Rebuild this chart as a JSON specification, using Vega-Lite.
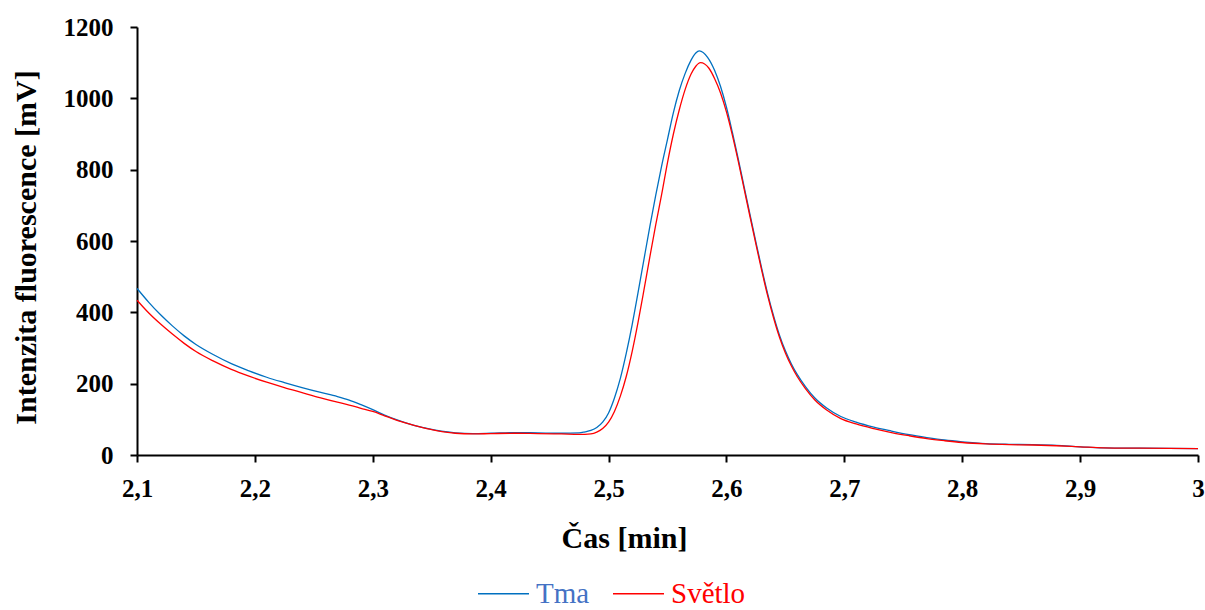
{
  "$schema": "https://vega.github.io/schema/vega-lite/v6.json",
  "width": 1061,
  "height": 428,
  "autosize": "none",
  "padding": {"left": 137, "top": 27, "right": 7, "bottom": 155},
  "background": "white",
  "config": {
    "view": {"stroke": null},
    "font": "Liberation Serif"
  },
  "datasets": {
    "tma": [
      {"t":2.100,"v":467},{"t":2.110,"v":428},{"t":2.120,"v":393},{"t":2.130,"v":362},{"t":2.140,"v":334},
      {"t":2.150,"v":310},{"t":2.165,"v":281},{"t":2.180,"v":256},{"t":2.195,"v":236},{"t":2.210,"v":218},
      {"t":2.225,"v":203},{"t":2.240,"v":189},{"t":2.255,"v":176},{"t":2.270,"v":164},{"t":2.280,"v":154},
      {"t":2.290,"v":141},{"t":2.300,"v":127},{"t":2.310,"v":112},{"t":2.320,"v":99},{"t":2.330,"v":88},
      {"t":2.340,"v":79},{"t":2.350,"v":72},{"t":2.360,"v":66},{"t":2.370,"v":62},{"t":2.385,"v":60},
      {"t":2.400,"v":61},{"t":2.420,"v":63},{"t":2.440,"v":62},{"t":2.460,"v":61},{"t":2.475,"v":62},
      {"t":2.480,"v":65},{"t":2.485,"v":69},{"t":2.490,"v":77},{"t":2.495,"v":92},{"t":2.500,"v":118},
      {"t":2.505,"v":160},{"t":2.510,"v":215},{"t":2.515,"v":285},{"t":2.520,"v":365},{"t":2.525,"v":455},
      {"t":2.530,"v":548},{"t":2.535,"v":640},{"t":2.540,"v":728},{"t":2.545,"v":810},{"t":2.550,"v":885},
      {"t":2.555,"v":960},{"t":2.560,"v":1022},{"t":2.565,"v":1070},{"t":2.570,"v":1107},{"t":2.574,"v":1127},
      {"t":2.577,"v":1133},{"t":2.584,"v":1115},{"t":2.590,"v":1078},{"t":2.595,"v":1033},{"t":2.600,"v":975},
      {"t":2.605,"v":905},{"t":2.610,"v":830},{"t":2.615,"v":752},{"t":2.620,"v":674},{"t":2.625,"v":597},
      {"t":2.630,"v":522},{"t":2.635,"v":452},{"t":2.640,"v":390},{"t":2.645,"v":336},{"t":2.650,"v":292},
      {"t":2.655,"v":256},{"t":2.660,"v":226},{"t":2.667,"v":192},{"t":2.675,"v":160},{"t":2.685,"v":132},
      {"t":2.697,"v":108},{"t":2.710,"v":92},{"t":2.725,"v":78},{"t":2.740,"v":67},{"t":2.755,"v":57},
      {"t":2.770,"v":49},{"t":2.785,"v":42},{"t":2.800,"v":37},{"t":2.820,"v":32},{"t":2.840,"v":30},
      {"t":2.860,"v":29},{"t":2.880,"v":27},{"t":2.900,"v":23},{"t":2.920,"v":20},{"t":2.950,"v":19},
      {"t":3.000,"v":18}
    ],
    "svetlo": [
      {"t":2.100,"v":434},{"t":2.110,"v":398},{"t":2.120,"v":367},{"t":2.130,"v":339},{"t":2.140,"v":313},
      {"t":2.150,"v":290},{"t":2.165,"v":263},{"t":2.180,"v":240},{"t":2.195,"v":221},{"t":2.210,"v":204},
      {"t":2.225,"v":189},{"t":2.240,"v":175},{"t":2.255,"v":161},{"t":2.270,"v":148},{"t":2.280,"v":140},
      {"t":2.290,"v":131},{"t":2.300,"v":122},{"t":2.310,"v":110},{"t":2.320,"v":98},{"t":2.330,"v":88},
      {"t":2.340,"v":79},{"t":2.350,"v":71},{"t":2.360,"v":65},{"t":2.370,"v":61},{"t":2.385,"v":59},
      {"t":2.400,"v":60},{"t":2.420,"v":61},{"t":2.440,"v":60},{"t":2.460,"v":59},{"t":2.475,"v":58},
      {"t":2.480,"v":58},{"t":2.485,"v":59},{"t":2.490,"v":64},{"t":2.495,"v":74},{"t":2.500,"v":92},
      {"t":2.505,"v":122},{"t":2.510,"v":165},{"t":2.515,"v":220},{"t":2.520,"v":290},{"t":2.525,"v":372},
      {"t":2.530,"v":462},{"t":2.535,"v":555},{"t":2.540,"v":645},{"t":2.545,"v":730},{"t":2.550,"v":820},
      {"t":2.555,"v":900},{"t":2.560,"v":968},{"t":2.565,"v":1025},{"t":2.570,"v":1068},{"t":2.574,"v":1090},
      {"t":2.578,"v":1100},{"t":2.585,"v":1085},{"t":2.590,"v":1055},{"t":2.595,"v":1015},{"t":2.600,"v":962},
      {"t":2.605,"v":897},{"t":2.610,"v":824},{"t":2.615,"v":746},{"t":2.620,"v":668},{"t":2.625,"v":591},
      {"t":2.630,"v":516},{"t":2.635,"v":446},{"t":2.640,"v":384},{"t":2.645,"v":330},{"t":2.650,"v":286},
      {"t":2.655,"v":250},{"t":2.660,"v":220},{"t":2.667,"v":186},{"t":2.675,"v":154},{"t":2.685,"v":126},
      {"t":2.697,"v":102},{"t":2.710,"v":87},{"t":2.725,"v":74},{"t":2.740,"v":63},{"t":2.755,"v":54},
      {"t":2.770,"v":46},{"t":2.785,"v":40},{"t":2.800,"v":35},{"t":2.820,"v":31},{"t":2.840,"v":29},
      {"t":2.860,"v":28},{"t":2.880,"v":26},{"t":2.900,"v":23},{"t":2.920,"v":20},{"t":2.950,"v":19},
      {"t":3.000,"v":18}
    ]
  },
  "layer": [
    {
      "data": {"name": "tma"},
      "transform": [{"calculate": "'Tma'", "as": "s"}],
      "mark": {"type": "line", "interpolate": "monotone", "strokeWidth": 1.3}
    },
    {
      "data": {"name": "svetlo"},
      "transform": [{"calculate": "'Světlo'", "as": "s"}],
      "mark": {"type": "line", "interpolate": "monotone", "strokeWidth": 1.3}
    }
  ],
  "encoding": {
    "x": {
      "field": "t", "type": "quantitative",
      "scale": {"domain": [2.1, 3.0], "nice": false, "zero": false},
      "axis": {
        "title": "Čas [min]",
        "values": [2.1, 2.2, 2.3, 2.4, 2.5, 2.6, 2.7, 2.8, 2.9, 3.0],
        "labelExpr": "replace(format(datum.value, '.1~f'), '.', ',')",
        "grid": false,
        "domainColor": "black", "domainWidth": 2,
        "tickColor": "black", "tickWidth": 2, "tickSize": 7,
        "labelFont": "Liberation Serif", "labelFontSize": 25, "labelFontWeight": "bold", "labelColor": "black",
        "labelPadding": 14, "labelBaseline": "top", "labelFlush": false,
        "titleFont": "Liberation Serif", "titleFontSize": 30, "titleFontWeight": "bold", "titleColor": "black",
        "titleX": 487, "titleY": 92, "titleBaseline": "alphabetic", "titleAlign": "center"
      }
    },
    "y": {
      "field": "v", "type": "quantitative",
      "scale": {"domain": [0, 1200], "nice": false},
      "axis": {
        "title": "Intenzita fluorescence [mV]",
        "values": [0, 200, 400, 600, 800, 1000, 1200],
        "format": "d",
        "grid": false,
        "domainColor": "black", "domainWidth": 2,
        "tickColor": "black", "tickWidth": 2, "tickSize": 7,
        "labelFont": "Liberation Serif", "labelFontSize": 25, "labelFontWeight": "bold", "labelColor": "black",
        "labelPadding": 17, "labelFlush": false,
        "titleFont": "Liberation Serif", "titleFontSize": 30, "titleFontWeight": "bold", "titleColor": "black",
        "titleX": -102, "titleY": 220, "titleAngle": -90, "titleBaseline": "alphabetic", "titleAlign": "center"
      }
    },
    "color": {
      "field": "s", "type": "nominal",
      "scale": {"domain": ["Tma", "Světlo"], "range": ["#0070C0", "#FF0000"]},
      "legend": {
        "title": null,
        "orient": "none",
        "legendX": 340,
        "legendY": 540,
        "direction": "horizontal",
        "symbolType": "stroke",
        "symbolSize": 2601,
        "symbolStrokeWidth": 1.3,
        "labelFont": "Liberation Serif",
        "labelFontSize": 29,
        "labelOffset": 6,
        "columnPadding": 20,
        "encode": {
          "labels": {"update": {"fill": {"signal": "datum.label == 'Tma' ? '#4472C4' : '#FF0000'"}}}
        }
      }
    }
  }
}
